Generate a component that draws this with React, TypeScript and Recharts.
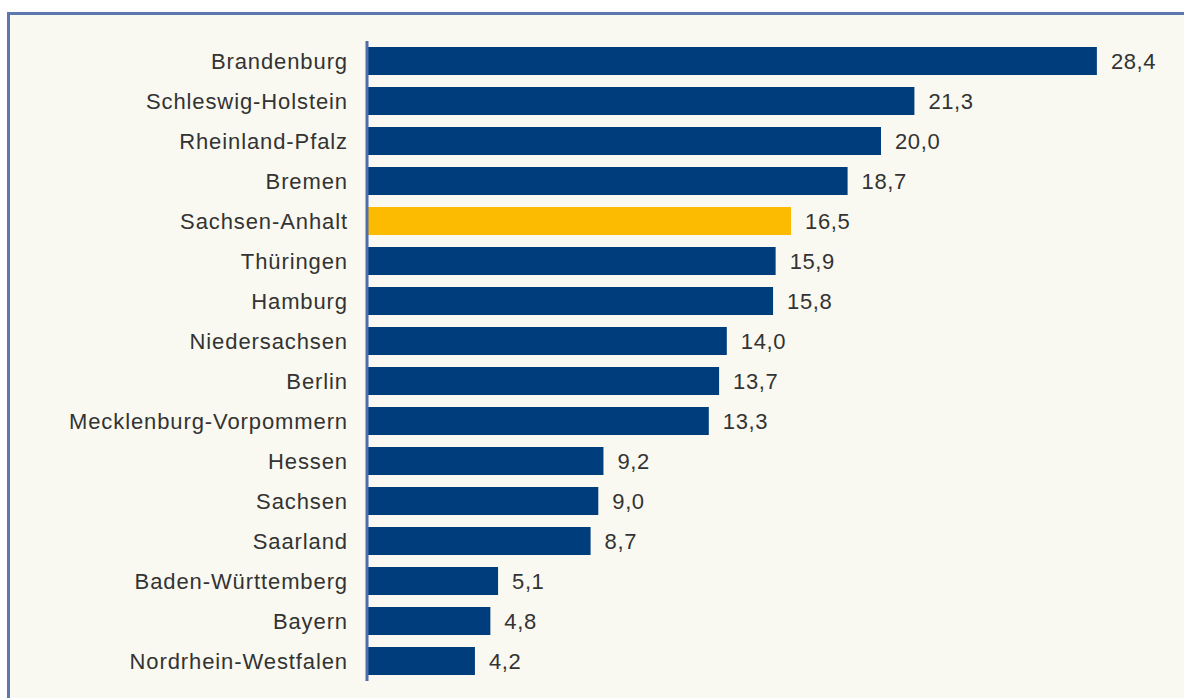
import React from "react";
import { BarChart, Bar, XAxis, YAxis, Cell, LabelList } from "recharts";

const categories = [
  "Brandenburg",
  "Schleswig-Holstein",
  "Rheinland-Pfalz",
  "Bremen",
  "Sachsen-Anhalt",
  "Thüringen",
  "Hamburg",
  "Niedersachsen",
  "Berlin",
  "Mecklenburg-Vorpommern",
  "Hessen",
  "Sachsen",
  "Saarland",
  "Baden-Württemberg",
  "Bayern",
  "Nordrhein-Westfalen",
];
const values = [28.4, 21.3, 20.0, 18.7, 16.5, 15.9, 15.8, 14.0, 13.7, 13.3, 9.2, 9.0, 8.7, 5.1, 4.8, 4.2];
const highlighted = ["Sachsen-Anhalt"];

const data = categories.map((name, i) => ({ name, value: values[i] }));

const NAVY = "#003D7C";
const AMBER = "#FCBA00";
const TEXT = "#333333";
const FONT = "'Liberation Sans', Arial, sans-serif";

const fmt = (v: any) => Number(v).toFixed(1).replace(".", ",");

export default function App() {
  return (
    <div style={{ position: "absolute", left: 0, top: 0, width: 1184, height: 698, background: "#ffffff", overflow: "hidden" }}>
      <div
        style={{
          position: "absolute",
          left: 7,
          top: 12,
          width: 1200,
          height: 720,
          background: "#F9F9F1",
          borderTop: "3px solid #5C78AE",
          borderLeft: "3px solid #5C78AE",
          boxSizing: "border-box",
        }}
      />
      <div style={{ position: "absolute", left: 0, top: 0 }}>
        <BarChart
          width={1184}
          height={698}
          data={data}
          layout="vertical"
          margin={{ top: 41, right: 46, bottom: 17, left: 0 }}
          barCategoryGap="15%"
        >
          <XAxis type="number" domain={[0, 30]} hide />
          <YAxis
            type="category"
            dataKey="name"
            width={367}
            axisLine={{ stroke: "#4F6DA8", strokeWidth: 3 }}
            tickLine={false}
            tickSize={0}
            tickMargin={19}
            tick={{ fill: TEXT, fontSize: 22, fontFamily: FONT, letterSpacing: 0.9 }}
            interval={0}
          />
          <Bar dataKey="value" isAnimationActive={false}>
            {data.map((d) => (
              <Cell key={d.name} fill={highlighted.includes(d.name) ? AMBER : NAVY} />
            ))}
            <LabelList
              dataKey="value"
              position="right"
              offset={14}
              formatter={fmt}
              style={{ fill: TEXT, fontSize: 22, fontFamily: FONT, letterSpacing: 0.6 }}
            />
          </Bar>
        </BarChart>
      </div>
    </div>
  );
}
